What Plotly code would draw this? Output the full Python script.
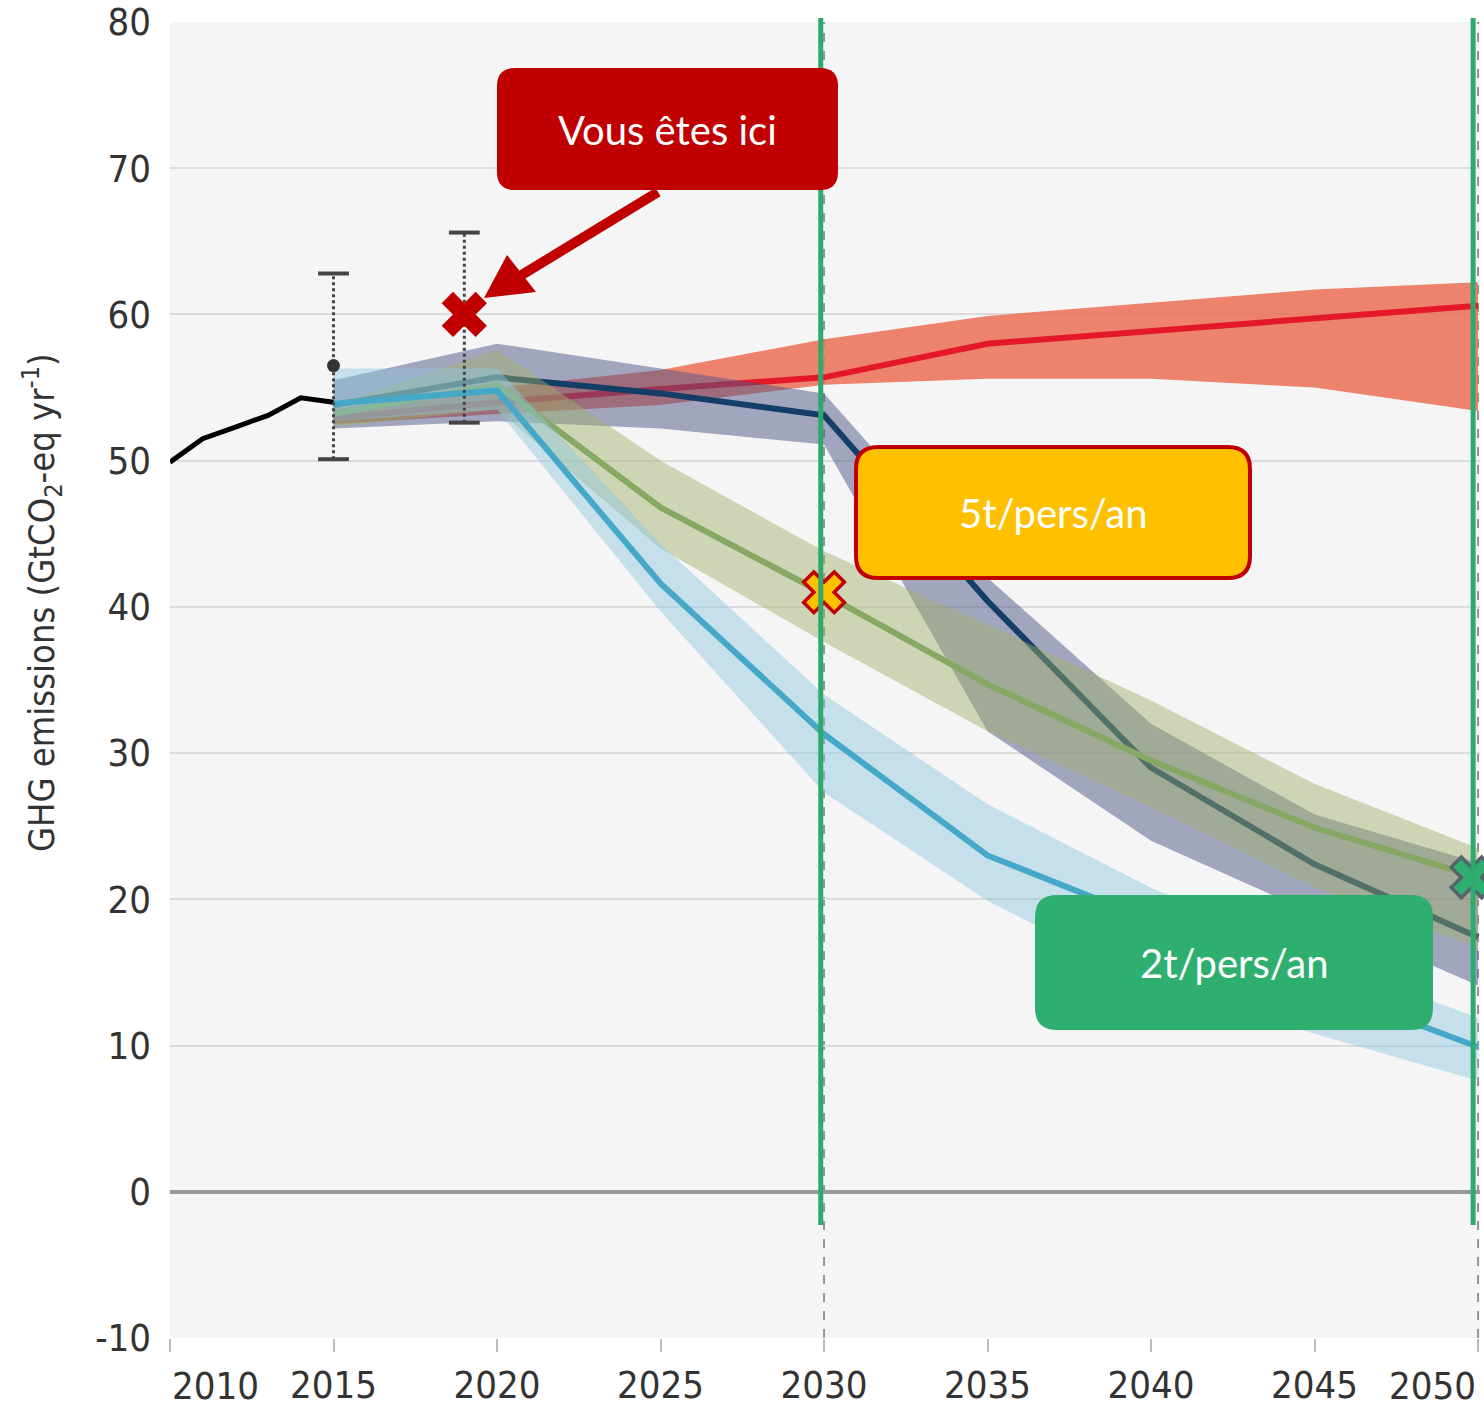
import plotly.graph_objects as go

# ---------------- data ----------------
hist_years = [2010, 2011, 2012, 2013, 2014, 2015]
hist_vals = [49.9, 51.5, 52.3, 53.1, 54.3, 54.0]

scen_years = [2015, 2020, 2025, 2030, 2035, 2040, 2045, 2050]

red_med = [52.9, 54.0, 54.9, 55.7, 58.0, 58.9, 59.7, 60.6]
red_hi = [53.5, 55.0, 56.2, 58.3, 59.9, 60.8, 61.7, 62.2]
red_lo = [52.5, 53.2, 53.8, 55.2, 55.6, 55.6, 55.0, 53.4]

pur_med = [53.8, 55.7, 54.6, 53.1, 40.4, 29.0, 22.4, 17.4]
pur_hi = [55.5, 58.0, 56.3, 54.6, 42.0, 32.0, 25.8, 22.5]
pur_lo = [52.2, 52.7, 52.2, 51.1, 31.5, 24.0, 19.0, 14.1]

grn_med = [53.2, 55.2, 46.8, 40.9, 34.7, 29.5, 24.9, 21.5]
grn_hi = [53.8, 57.6, 50.0, 43.8, 38.8, 33.6, 27.9, 23.5]
grn_lo = [52.3, 53.5, 44.0, 37.6, 31.5, 26.3, 20.8, 16.7]

blu_med = [53.9, 54.8, 41.6, 31.3, 23.0, 18.6, 14.1, 9.9]
blu_hi = [56.3, 56.3, 44.3, 34.0, 26.5, 20.8, 16.0, 11.9]
blu_lo = [52.7, 53.5, 39.7, 27.3, 19.9, 14.2, 10.8, 7.6]

err_years = [2015, 2019]
err_center = [56.5, None]
err_lo = [50.1, 52.6]
err_hi = [62.8, 65.6]

here_point = (2019, 60.0)
t5_point = (2030, 41.0)
t2_point = (2050, 21.5)

x_ticks = [2010, 2015, 2020, 2025, 2030, 2035, 2040, 2045, 2050]
y_ticks = [-10, 0, 10, 20, 30, 40, 50, 60, 70, 80]

# ---------------- layout helpers ----------------
W, H = 1484, 1408
L, R, T, B = 170, 4, 22, 70
PW, PH = W - L - R, H - T - B


def px(x):
    return (x - L) / PW


def py(y):
    return (H - B - y) / PH


def rounded_rect(x0, y0, x1, y1, r):
    X0, X1 = px(x0), px(x1)
    Y0, Y1 = py(y0), py(y1)
    rx, ry = r / PW, r / PH
    return (f"M {X0+rx},{Y0} L {X1-rx},{Y0} Q {X1},{Y0} {X1},{Y0-ry} "
            f"L {X1},{Y1+ry} Q {X1},{Y1} {X1-rx},{Y1} "
            f"L {X0+rx},{Y1} Q {X0},{Y1} {X0},{Y1+ry} "
            f"L {X0},{Y0-ry} Q {X0},{Y0} {X0+rx},{Y0} Z")


fig = go.Figure()


def band(lo, hi, color):
    fig.add_trace(go.Scatter(x=scen_years + scen_years[::-1], y=hi + lo[::-1],
                             fill="toself", fillcolor=color, mode="none",
                             hoverinfo="skip", showlegend=False))


def med(vals, color, width=6):
    fig.add_trace(go.Scatter(x=scen_years, y=vals, mode="lines",
                             line=dict(color=color, width=width),
                             hoverinfo="skip", showlegend=False))


band(red_lo, red_hi, "rgba(235,110,85,0.85)")
med(red_med, "#e3192a")
band(pur_lo, pur_hi, "rgba(80,85,135,0.5)")
med(pur_med, "#123e68")
band(grn_lo, grn_hi, "rgba(160,175,105,0.45)")
med(grn_med, "#86a862")
band(blu_lo, blu_hi, "rgba(140,200,225,0.45)")
med(blu_med, "#45a8c8")

# historical
fig.add_trace(go.Scatter(x=hist_years, y=hist_vals, mode="lines",
                         line=dict(color="black", width=5),
                         hoverinfo="skip", showlegend=False))

# error bars (dotted)
for i, yr in enumerate(err_years):
    fig.add_trace(go.Scatter(x=[yr, yr], y=[err_lo[i], err_hi[i]], mode="lines+markers",
                             line=dict(color="#444", width=3, dash="dot"),
                             marker=dict(symbol="line-ew", size=22,
                                         line=dict(color="#444", width=4)),
                             hoverinfo="skip", showlegend=False))
    if err_center[i] is not None:
        fig.add_trace(go.Scatter(x=[yr], y=[err_center[i]], mode="markers",
                                 marker=dict(color="#333", size=13),
                                 hoverinfo="skip", showlegend=False))

# X markers
fig.add_trace(go.Scatter(x=[here_point[0]], y=[here_point[1]], mode="markers",
                         marker=dict(symbol="x", size=40, color="#c00000",
                                     line=dict(width=0)),
                         cliponaxis=False, hoverinfo="skip", showlegend=False))
fig.add_trace(go.Scatter(x=[t5_point[0]], y=[t5_point[1]], mode="markers",
                         marker=dict(symbol="x", size=36, color="#ffc000",
                                     line=dict(width=3.5, color="#c00000")),
                         cliponaxis=False, hoverinfo="skip", showlegend=False))
fig.add_trace(go.Scatter(x=[t2_point[0] - 0.2], y=[t2_point[1]], mode="markers",
                         marker=dict(symbol="x", size=36, color="#2eaf70",
                                     line=dict(width=3.5, color="#57636a")),
                         cliponaxis=False, hoverinfo="skip", showlegend=False))

shapes = []
# dashed grey verticals (original figure)
for xv in [2030, 2050]:
    shapes.append(dict(type="line", xref="x", yref="paper", x0=xv, x1=xv, y0=0, y1=1,
                       line=dict(color="#777", width=1.5, dash="dash"), layer="below"))
# green verticals
for xv in [2029.9, 2049.85]:
    shapes.append(dict(type="line", xref="x", yref="paper", x0=xv, x1=xv,
                       y0=py(1225), y1=py(18),
                       line=dict(color="#2eaa6e", width=5)))
# boxes
shapes.append(dict(type="path", xref="paper", yref="paper",
                   path=rounded_rect(497, 68, 838, 190, 18),
                   fillcolor="#c00000", line=dict(width=0)))
shapes.append(dict(type="path", xref="paper", yref="paper",
                   path=rounded_rect(856, 447, 1250, 578, 22),
                   fillcolor="#ffc000", line=dict(color="#c00000", width=4)))
shapes.append(dict(type="path", xref="paper", yref="paper",
                   path=rounded_rect(1035, 895, 1433, 1030, 22),
                   fillcolor="#2eaf70", line=dict(width=0)))
# arrow: shaft + head
shapes.append(dict(type="line", xref="paper", yref="paper",
                   x0=px(658), y0=py(192), x1=px(520), y1=py(276),
                   line=dict(color="#c00000", width=10)))
shapes.append(dict(type="path", xref="paper", yref="paper",
                   path=f"M {px(484)},{py(298)} L {px(507)},{py(255)} L {px(536)},{py(292)} Z",
                   fillcolor="#c00000", line=dict(width=0)))

tick_font = dict(family="Liberation Sans Narrow, DejaVu Sans Condensed, sans-serif",
                 size=38, color="#333")
box_font = dict(family="Lato, Open Sans, sans-serif", size=40, color="white")
annotations = [
    dict(xref="paper", yref="paper", x=px(667), y=py(130), text="Vous êtes ici",
         xanchor="center", yanchor="middle", showarrow=False, font=box_font),
    dict(xref="paper", yref="paper", x=px(1053), y=py(513), text="5t/pers/an",
         xanchor="center", yanchor="middle", showarrow=False, font=box_font),
    dict(xref="paper", yref="paper", x=px(1234), y=py(963), text="2t/pers/an",
         xanchor="center", yanchor="middle", showarrow=False, font=box_font),
    dict(xref="paper", yref="paper", x=px(42), y=py(603), textangle=-90,
         xanchor="center", yanchor="middle",
         text="GHG emissions (GtCO<sub>2</sub>-eq yr<sup>-1</sup>)",
         showarrow=False, font=dict(family="Liberation Sans Narrow, DejaVu Sans Condensed, sans-serif",
                                    size=36, color="#333")),
    # edge tick labels, shifted inward as in the reference
    dict(xref="x", yref="paper", x=x_ticks[0], y=py(1386), text=str(x_ticks[0]),
         xanchor="left", yanchor="middle", showarrow=False, font=tick_font),
    dict(xref="x", yref="paper", x=x_ticks[-1], y=py(1386), text=str(x_ticks[-1]),
         xanchor="right", yanchor="middle", showarrow=False, font=tick_font),
]

inner_ticks = x_ticks[1:-1]
edge_ticks = [x_ticks[0], x_ticks[-1]]

fig.update_layout(
    width=W, height=H,
    margin=dict(l=L, r=R, t=T, b=B, autoexpand=False),
    paper_bgcolor="white", plot_bgcolor="#f5f5f5",
    shapes=shapes, annotations=annotations,
    showlegend=False,
    font=dict(family="Liberation Sans Narrow, DejaVu Sans Condensed, sans-serif", color="#333"),
)
fig.update_xaxes(range=[2010, 2050.06], tickvals=inner_ticks,
                 ticktext=[str(v) for v in inner_ticks],
                 showgrid=False, zeroline=False, ticks="outside", ticklen=13, tickwidth=1.5,
                 tickcolor="#bbb", showline=False, tickfont=tick_font,
                 minor=dict(tickvals=edge_ticks, ticks="outside", ticklen=13, tickwidth=1.5,
                            tickcolor="#bbb", showgrid=False),
                 ticklabelstandoff=0, automargin=False, ticklabeloverflow="allow")
fig.update_yaxes(range=[-10, 80], tickvals=y_ticks, ticktext=[str(v) for v in y_ticks],
                 showgrid=True, gridcolor="#dcdcdc", gridwidth=2,
                 zeroline=True, zerolinecolor="#999", zerolinewidth=4,
                 ticks="", tickfont=tick_font, ticklabelstandoff=18,
                 automargin=False, ticklabeloverflow="allow")

fig.write_html("out.html", post_script="document.body.style.margin='0';",
               config={"displayModeBar": False})
